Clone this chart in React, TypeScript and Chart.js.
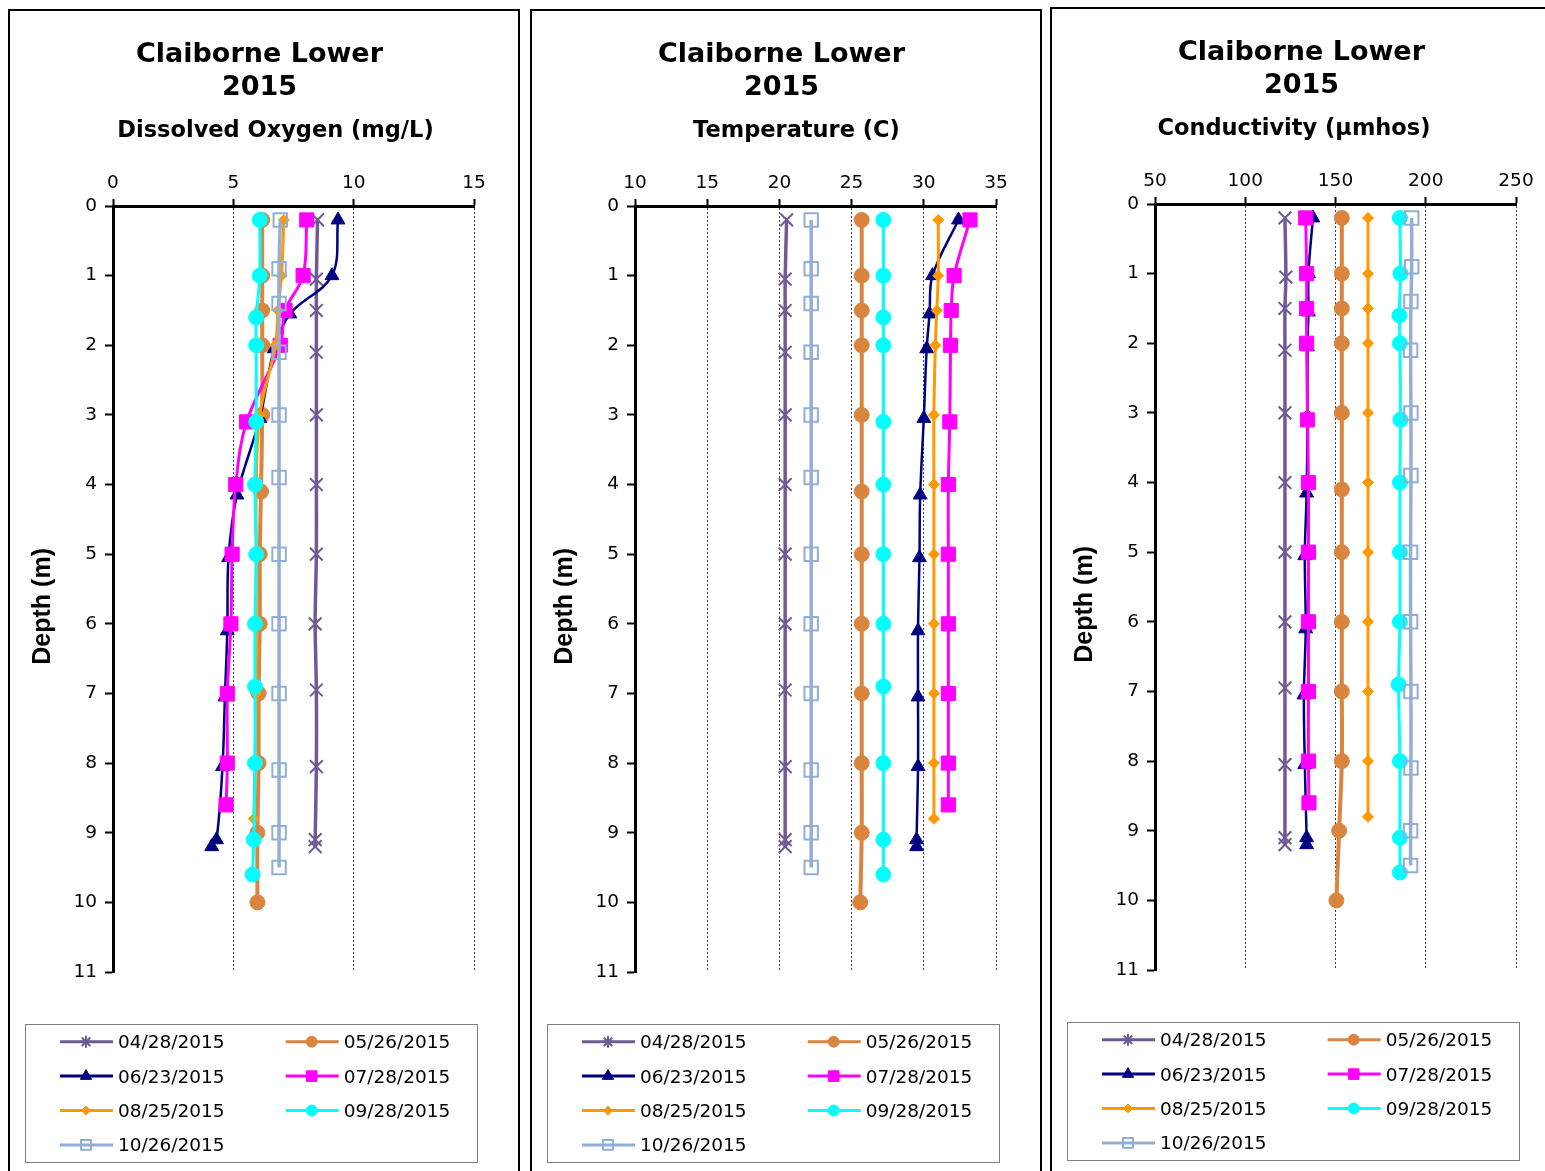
import React, { useEffect, useRef } from 'react';
import { Chart, registerables } from 'chart.js';
import { drawPoint } from 'chart.js/helpers';

Chart.register(...registerables);

const SITE_TITLE = ['Claiborne Lower', '2015'];
const DEPTH_LABEL = 'Depth (m)';
const SAMPLE_DATES = ['04/28/2015', '05/26/2015', '06/23/2015', '07/28/2015', '08/25/2015', '09/28/2015', '10/26/2015'];

// Sampling depths (m) for each survey date
const depthApr = [0.2, 1.05, 1.5, 2.1, 3.0, 4.0, 5.0, 6.0, 6.95, 8.05, 9.1, 9.2];
const depthMay = [0.2, 1.0, 1.5, 2.0, 3.0, 4.1, 5.0, 6.0, 7.0, 8.0, 9.0, 10.0];
const depthJun = [0.2, 1.0, 1.55, 2.05, 3.05, 4.15, 5.05, 6.1, 7.05, 8.05, 9.1, 9.2];
const depthJul = [0.2, 1.0, 1.5, 2.0, 3.1, 4.0, 5.0, 6.0, 7.0, 8.0, 8.6];
const depthAug = [0.2, 1.0, 1.5, 2.0, 3.0, 4.0, 5.0, 6.0, 7.0, 8.0, 8.8];
const depthSep = [0.2, 1.0, 1.6, 2.0, 3.1, 4.0, 5.0, 6.0, 6.9, 8.0, 9.1, 9.6];
const depthOct = [0.2, 0.9, 1.4, 2.1, 3.0, 3.9, 5.0, 6.0, 7.0, 8.1, 9.0, 9.5];
const DEPTHS = [depthApr, depthMay, depthJun, depthJul, depthAug, depthSep, depthOct];

// Dissolved oxygen (mg/L)
const oxygenApr = [8.5, 8.45, 8.45, 8.45, 8.45, 8.45, 8.45, 8.4, 8.45, 8.45, 8.4, 8.4];
const oxygenMay = [6.2, 6.2, 6.2, 6.2, 6.2, 6.15, 6.1, 6.1, 6.05, 6.05, 6.0, 6.0];
const oxygenJun = [9.35, 9.1, 7.35, 6.7, 6.1, 5.15, 4.8, 4.75, 4.65, 4.55, 4.3, 4.1];
const oxygenJul = [8.05, 7.9, 7.15, 6.95, 5.55, 5.1, 4.95, 4.9, 4.75, 4.75, 4.7];
const oxygenAug = [7.1, 7.0, 6.85, 6.75, 6.1, 5.95, 5.95, 5.95, 5.95, 5.9, 5.85];
const oxygenSep = [6.1, 6.1, 5.95, 5.95, 5.95, 5.9, 5.95, 5.9, 5.9, 5.9, 5.85, 5.8];
const oxygenOct = [6.95, 6.9, 6.9, 6.9, 6.9, 6.9, 6.9, 6.9, 6.9, 6.9, 6.9, 6.9];

// Water temperature (C)
const tempApr = [20.5, 20.4, 20.4, 20.4, 20.4, 20.4, 20.4, 20.4, 20.4, 20.4, 20.4, 20.4];
const tempMay = [25.7, 25.7, 25.7, 25.7, 25.7, 25.7, 25.7, 25.7, 25.7, 25.7, 25.7, 25.6];
const tempJun = [32.4, 30.6, 30.4, 30.2, 30.0, 29.75, 29.7, 29.6, 29.6, 29.6, 29.5, 29.5];
const tempJul = [33.2, 32.1, 31.9, 31.85, 31.8, 31.7, 31.7, 31.7, 31.7, 31.7, 31.7];
const tempAug = [31.0, 31.0, 30.9, 30.8, 30.7, 30.7, 30.7, 30.7, 30.7, 30.7, 30.7];
const tempSep = [27.2, 27.2, 27.2, 27.2, 27.2, 27.2, 27.2, 27.2, 27.2, 27.2, 27.2, 27.2];
const tempOct = [22.2, 22.2, 22.2, 22.2, 22.2, 22.2, 22.2, 22.2, 22.2, 22.2, 22.2, 22.2];

// Specific conductivity (umhos)
const condApr = [122, 122.5, 122, 122, 122, 122, 122, 122, 122, 122, 122, 122];
const condMay = [153.5, 153.5, 153.5, 153.5, 153.5, 153.5, 153.5, 153.5, 153.5, 153.5, 152, 150.5];
const condJun = [137.5, 135, 135, 134.5, 134.5, 134, 133, 133.5, 132.5, 133, 134, 134];
const condJul = [133.5, 134, 134, 134, 134.5, 135, 135, 135, 135, 135, 135.3];
const condAug = [168, 168, 168, 168, 168, 168, 168, 168, 168, 168, 168];
const condSep = [185.7, 186, 185.4, 185.7, 186, 185.7, 185.7, 185.7, 185, 185.7, 185.7, 185.7];
const condOct = [192.2, 192.2, 191.8, 191.6, 191.8, 191.8, 191.6, 191.6, 191.8, 191.8, 191.6, 191.6];

const OXYGEN = [oxygenApr, oxygenMay, oxygenJun, oxygenJul, oxygenAug, oxygenSep, oxygenOct];
const TEMPERATURE = [tempApr, tempMay, tempJun, tempJul, tempAug, tempSep, tempOct];
const CONDUCTIVITY = [condApr, condMay, condJun, condJul, condAug, condSep, condOct];

// Series styling
const SERIES_COLORS = ['#705A96', '#D9853F', '#000080', '#FF00FF', '#FF9900', '#00FFFF', '#93AED4'];
const MARKER_STYLES = ['crossRot', 'circle', 'triangle', 'rect', 'rectRot', 'circle', 'rect'];
const MARKER_RADIUS = [9, 7.5, 8, 10, 5.5, 7.5, 9.5];
const MARKER_FILLED = [true, true, true, true, true, true, false];
const LEGEND_MARKER_STYLES = ['star', 'circle', 'triangle', 'rect', 'rectRot', 'circle', 'rect'];
const LEGEND_MARKER_RADIUS = [6, 5.5, 6.5, 7.5, 4.5, 5.5, 7];
const LINE_WIDTHS = [3.5, 4, 2.5, 3, 3, 3, 3.5];

const FONT = "'DejaVu Sans'";

type PanelSpec = {
  subtitle: string;
  subtitleX: number;
  min: number;
  max: number;
  step: number;
  values: number[][];
  left: number;
  top: number;
};

const PANELS: PanelSpec[] = [
  { subtitle: 'Dissolved Oxygen (mg/L)', subtitleX: 265.5, min: 0, max: 15, step: 5, values: OXYGEN, left: 8, top: 9 },
  { subtitle: 'Temperature (C)', subtitleX: 264.5, min: 10, max: 35, step: 5, values: TEMPERATURE, left: 530, top: 9 },
  { subtitle: 'Conductivity (\u00b5mhos)', subtitleX: 242, min: 50, max: 250, step: 50, values: CONDUCTIVITY, left: 1050, top: 7 },
];

const PANEL_W = 512;
const PANEL_H = 1180;

// Titles and the boxed two-column legend drawn around the plot area
const panelDecor = {
  id: 'panelDecor',
  afterDraw(chart: any, _args: any, opts: any) {
    const ctx: CanvasRenderingContext2D = chart.ctx;
    ctx.save();
    ctx.fillStyle = '#000';
    ctx.textAlign = 'center';
    ctx.textBaseline = 'alphabetic';
    ctx.font = `bold 27px ${FONT}`;
    ctx.fillText(SITE_TITLE[0], 249.5, 51);
    ctx.fillText(SITE_TITLE[1], 249.5, 84);
    ctx.font = `bold 22.5px ${FONT}`;
    ctx.fillText(opts.subtitle, opts.subtitleX, 126);

    // legend frame
    ctx.strokeStyle = '#7f7f7f';
    ctx.lineWidth = 1;
    ctx.strokeRect(15.5, 1013.5, 452, 138);

    const colX = [50, 275.7];
    const rowY0 = 1030.7;
    const rowGap = 34.4;
    ctx.textAlign = 'left';
    ctx.font = `18.5px ${FONT}`;
    chart.data.datasets.forEach((ds: any, i: number) => {
      const x0 = colX[i % 2];
      const y = rowY0 + Math.floor(i / 2) * rowGap;
      ctx.strokeStyle = SERIES_COLORS[i];
      ctx.lineWidth = 3;
      ctx.beginPath();
      ctx.moveTo(x0, y);
      ctx.lineTo(x0 + 53, y);
      ctx.stroke();
      ctx.fillStyle = MARKER_FILLED[i] ? SERIES_COLORS[i] : 'rgba(0,0,0,0)';
      ctx.lineWidth = MARKER_FILLED[i] && LEGEND_MARKER_STYLES[i] !== 'star' ? 1 : 2;
      drawPoint(ctx, {
        pointStyle: LEGEND_MARKER_STYLES[i],
        rotation: 0,
        radius: LEGEND_MARKER_RADIUS[i],
        borderWidth: ctx.lineWidth,
      } as any, x0 + 26, y);
      ctx.fillStyle = '#000';
      ctx.fillText(ds.label, x0 + 58, y + 6.5);
    });
    ctx.restore();
  },
};

function ProfilePanel({ spec }: { spec: PanelSpec }) {
  const canvasRef = useRef<HTMLCanvasElement | null>(null);

  useEffect(() => {
    if (!canvasRef.current) return;
    const datasets = SAMPLE_DATES.map((date, i) => ({
      label: date,
      data: DEPTHS[i].map((d, k) => ({ x: spec.values[i][k], y: d })),
      showLine: true,
      borderColor: SERIES_COLORS[i],
      backgroundColor: SERIES_COLORS[i],
      borderWidth: LINE_WIDTHS[i],
      tension: 0.35,
      pointStyle: MARKER_STYLES[i],
      pointRadius: MARKER_RADIUS[i],
      pointHoverRadius: MARKER_RADIUS[i],
      pointBackgroundColor: MARKER_FILLED[i] ? SERIES_COLORS[i] : 'rgba(0,0,0,0)',
      pointBorderColor: SERIES_COLORS[i],
      pointBorderWidth: MARKER_FILLED[i] && MARKER_STYLES[i] !== 'crossRot' ? 1 : 2,
      order: SAMPLE_DATES.length - i,
    }));

    const chart = new Chart(canvasRef.current, {
      type: 'scatter',
      data: { datasets },
      plugins: [panelDecor],
      options: {
        responsive: true,
        maintainAspectRatio: false,
        animation: false,
        layout: { padding: { left: 14, top: 155, right: 44, bottom: 215 } },
        plugins: {
          legend: { display: false },
          tooltip: { enabled: false },
          title: { display: false },
          panelDecor: { subtitle: spec.subtitle, subtitleX: spec.subtitleX },
        } as any,
        scales: {
          x: {
            type: 'linear',
            position: 'top',
            min: spec.min,
            max: spec.max,
            ticks: { stepSize: spec.step, color: '#000', font: { family: FONT, size: 18.5 }, padding: 5 },
            grid: {
              color: '#444',
              lineWidth: 1,
              drawTicks: true,
              tickLength: 7,
              tickColor: '#000',
              tickWidth: 2,
            },
            border: { display: true, color: '#000', width: 3, dash: [2, 2] },
            afterFit: (s: any) => { s.height = 40; },
          },
          y: {
            type: 'linear',
            reverse: true,
            min: 0,
            max: 11,
            ticks: { stepSize: 1, color: '#000', font: { family: FONT, size: 18.5 }, padding: 8 },
            grid: { drawOnChartArea: false, drawTicks: true, tickLength: 8, tickColor: '#000', tickWidth: 2 },
            border: { display: true, color: '#000', width: 3 },
            title: {
              display: true,
              text: DEPTH_LABEL + '     ',
              color: '#000',
              font: { family: "'Liberation Sans'", size: 25, weight: 'bold' },
              padding: { top: 4, bottom: 4 },
            },
            afterFit: (s: any) => { s.width = 89; },
          },
        } as any,
      },
    });
    return () => chart.destroy();
  }, [spec]);

  return (
    <div
      style={{
        position: 'absolute',
        left: spec.left,
        top: spec.top,
        width: PANEL_W,
        height: PANEL_H,
        border: '2px solid #000',
        boxSizing: 'border-box',
        background: '#fff',
      }}
    >
      <div style={{ position: 'relative', width: PANEL_W - 4, height: PANEL_H - 4 }}>
        <canvas ref={canvasRef} />
      </div>
    </div>
  );
}

export default function App() {
  return (
    <div
      style={{
        position: 'absolute',
        left: 0,
        top: 0,
        width: 1545,
        height: 1171,
        overflow: 'hidden',
        background: '#fff',
      }}
    >
      {PANELS.map((p) => (
        <ProfilePanel key={p.subtitle} spec={p} />
      ))}
    </div>
  );
}
